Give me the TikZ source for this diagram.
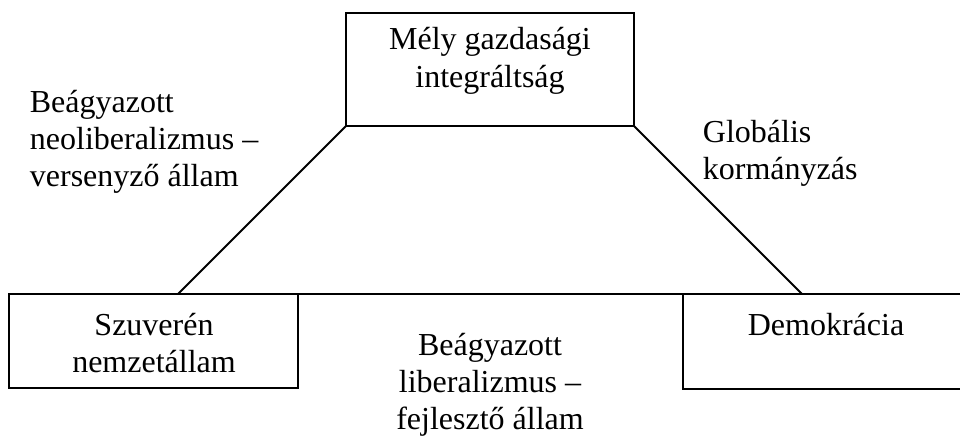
\documentclass[tikz,border=0pt]{standalone}
\usepackage{fontspec}
\setmainfont{Liberation Serif}
\tikzset{
  box/.style={draw,line width=1.8pt,inner sep=0pt,outer sep=0pt},
  txt/.style={font=\fontsize{32}{37}\selectfont,inner sep=0pt},
}
\begin{document}
\begin{tikzpicture}[x=1pt,y=-1pt,line width=1.8pt]
  \useasboundingbox (0,0) rectangle (960,436);
  % boxes
  \node[box,minimum width=288pt,minimum height=113pt] (integr) at (490,69.5) {};
  \node[box,minimum width=289pt,minimum height=94pt] (szuveren) at (153.5,341) {};
  \node[box,minimum width=280pt,minimum height=95pt] (demokr) at (823,341.5) {};
  % box texts (base = last line)
  \node[txt,align=center,anchor=base] (integrtxt) at (490,87) {Mély gazdasági\\integráltság};
  \node[txt,align=center,anchor=base] (szuvtxt) at (154,372) {Szuverén\\nemzetállam};
  \node[txt,anchor=base] (demtxt) at (826,335) {Demokrácia};
  % sides
  \coordinate (bl) at (178,294);
  \coordinate (br) at (802,294);
  \draw (integr.south west) -- (bl);
  \draw (integr.south east) -- (br);
  \draw (szuveren.north east) -- (demokr.north west);
  % side labels
  \node[txt,align=left,anchor=base west] (neolib) at (29,186) {Beágyazott\\neoliberalizmus –\\versenyző állam};
  \node[txt,align=left,anchor=base west] (glob) at (702,179) {Globális\\kormányzás};
  \node[txt,align=center,anchor=base] (lib) at (490,429) {Beágyazott\\liberalizmus –\\fejlesztő állam};
\end{tikzpicture}
\end{document}
